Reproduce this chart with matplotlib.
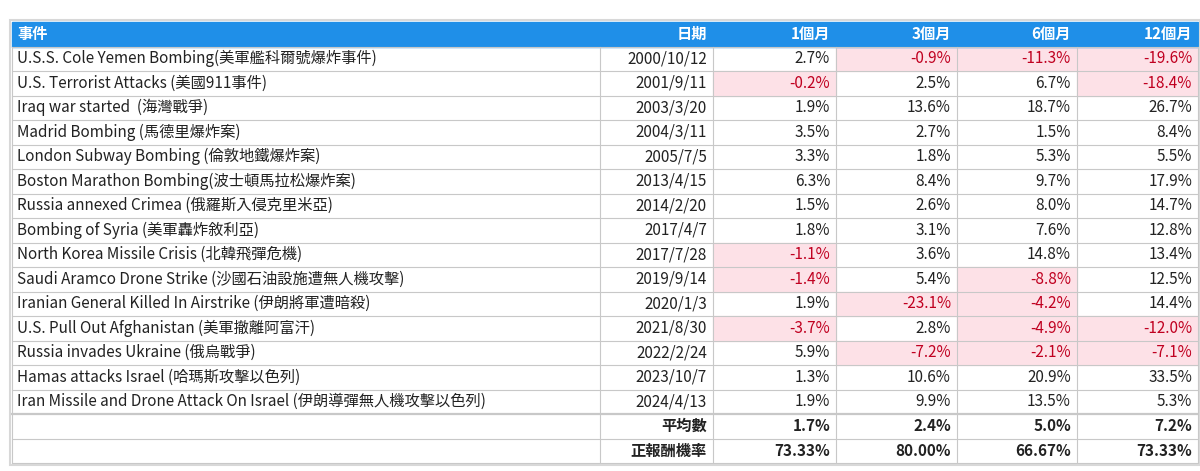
import matplotlib
matplotlib.use("Agg")
import matplotlib.pyplot as plt
from matplotlib.patches import Rectangle
from matplotlib import font_manager

names = {f.name for f in font_manager.fontManager.ttflist}
cjk = [n for n in ["Noto Sans CJK TC", "Noto Sans CJK JP", "Noto Sans CJK SC", "Noto Sans CJK KR"] if n in names]
plt.rcParams["font.family"] = cjk + ["DejaVu Sans"]

headers = ["事件", "日期", "1個月", "3個月", "6個月", "12個月"]
events = ["U.S.S. Cole Yemen Bombing(美軍艦科爾號爆炸事件)", "U.S. Terrorist Attacks (美國911事件)",
          "Iraq war started  (海灣戰爭)", "Madrid Bombing (馬德里爆炸案)", "London Subway Bombing (倫敦地鐵爆炸案)",
          "Boston Marathon Bombing(波士頓馬拉松爆炸案)", "Russia annexed Crimea (俄羅斯入侵克里米亞)",
          "Bombing of Syria (美軍轟炸敘利亞)", "North Korea Missile Crisis (北韓飛彈危機)",
          "Saudi Aramco Drone Strike (沙國石油設施遭無人機攻擊)", "Iranian General Killed In Airstrike (伊朗將軍遭暗殺)",
          "U.S. Pull Out Afghanistan (美軍撤離阿富汗)", "Russia invades Ukraine (俄烏戰爭)",
          "Hamas attacks Israel (哈瑪斯攻擊以色列)", "Iran Missile and Drone Attack On Israel (伊朗導彈無人機攻擊以色列)"]
dates = ["2000/10/12", "2001/9/11", "2003/3/20", "2004/3/11", "2005/7/5", "2013/4/15", "2014/2/20",
         "2017/4/7", "2017/7/28", "2019/9/14", "2020/1/3", "2021/8/30", "2022/2/24", "2023/10/7", "2024/4/13"]
m1 = [2.7, -0.2, 1.9, 3.5, 3.3, 6.3, 1.5, 1.8, -1.1, -1.4, 1.9, -3.7, 5.9, 1.3, 1.9]
m3 = [-0.9, 2.5, 13.6, 2.7, 1.8, 8.4, 2.6, 3.1, 3.6, 5.4, -23.1, 2.8, -7.2, 10.6, 9.9]
m6 = [-11.3, 6.7, 18.7, 1.5, 5.3, 9.7, 8.0, 7.6, 14.8, -8.8, -4.2, -4.9, -2.1, 20.9, 13.5]
m12 = [-19.6, -18.4, 26.7, 8.4, 5.5, 17.9, 14.7, 12.8, 13.4, 12.5, 14.4, -12.0, -7.1, 33.5, 5.3]
summary_labels = ["平均數", "正報酬機率"]
avg = ["1.7%", "2.4%", "5.0%", "7.2%"]
pos_rate = ["73.33%", "80.00%", "66.67%", "73.33%"]

W, H = 1200, 471
fig = plt.figure(figsize=(W / 100, H / 100), dpi=100)
ax = fig.add_axes([0, 0, 1, 1])
ax.set_xlim(0, W); ax.set_ylim(H, 0); ax.axis("off")

xs = [12, 600, 713, 836, 957, 1077, 1198]
top = 22
rh = 24.5
blue = "#1f8fe8"
grid = "#c8c8c8"
red = "#c00020"
pink = "#fde1e7"
fs = 11

ax.add_patch(Rectangle((xs[0], top), xs[-1] - xs[0], rh, color=blue, zorder=1))
for i, h in enumerate(headers):
    if i == 0:
        ax.text(xs[0] + 5, top + rh / 2, h, color="white", weight="bold", fontsize=fs, va="center", ha="left")
    else:
        ax.text(xs[i + 1] - 6, top + rh / 2, h, color="white", weight="bold", fontsize=fs, va="center", ha="right")

cols = [m1, m3, m6, m12]
for r in range(len(events)):
    y = top + rh * (r + 1)
    ax.text(xs[0] + 5, y + rh / 2, events[r], fontsize=fs, va="center", ha="left", color="#222222")
    ax.text(xs[2] - 6, y + rh / 2, dates[r], fontsize=fs, va="center", ha="right", color="#222222")
    for c, vals in enumerate(cols):
        v = vals[r]
        if v < 0:
            ax.add_patch(Rectangle((xs[c + 2], y), xs[c + 3] - xs[c + 2], rh, color=pink, zorder=0))
        ax.text(xs[c + 3] - 6, y + rh / 2, f"{v:.1f}%", fontsize=fs, va="center", ha="right",
                color=red if v < 0 else "#222222")

for k, (lab, vals) in enumerate(zip(summary_labels, [avg, pos_rate])):
    y = top + rh * (len(events) + 1 + k)
    ax.text(xs[2] - 6, y + rh / 2, lab, fontsize=fs, weight="bold", va="center", ha="right", color="#222222")
    for c, s in enumerate(vals):
        ax.text(xs[c + 3] - 6, y + rh / 2, s, fontsize=fs, weight="bold", va="center", ha="right", color="#222222")

nrows = len(events) + 3
bottom = top + rh * nrows
for r in range(1, nrows + 1):
    y = top + rh * r
    lw = 1.6 if r == len(events) + 1 else 0.8
    ax.plot([xs[0], xs[-1]], [y, y], color=grid, lw=lw, zorder=2)
for x in xs:
    ax.plot([x, x], [top + rh, bottom], color=grid, lw=0.8, zorder=2)
ax.add_patch(Rectangle((xs[0] - 2, top - 2), xs[-1] - xs[0] + 4, bottom - top + 4, fill=False,
                       edgecolor="#d8d8d8", lw=1.5, zorder=3))

fig.savefig("out.png", dpi=100, facecolor="white")
